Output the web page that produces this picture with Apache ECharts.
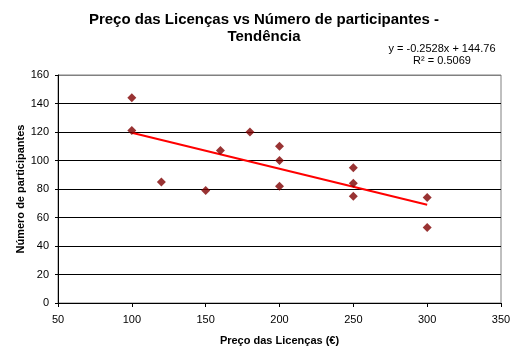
<!DOCTYPE html>
<html><head><meta charset="utf-8">
<script src="https://cdn.jsdelivr.net/npm/echarts@6/dist/echarts.min.js"></script>
<style>html,body{margin:0;padding:0;background:#fff}#c{width:517px;height:355px}</style>
</head><body><div id="c"></div>
<script>
const prices = [100, 100, 120, 150, 160, 180, 200, 200, 200, 250, 250, 250, 300, 300];
const participants = [144, 121, 85, 79, 107, 120, 110, 100, 82, 95, 84, 75, 74, 53];
const trendSlope = -0.2528;
const trendIntercept = 144.76;
const trendXRange = [100, 300];
const titleText = 'Preço das Licenças vs Número de participantes -\nTendência';
const equationText = 'y = -0.2528x + 144.76\nR² = 0.5069';
const xTitle = 'Preço das Licenças (€)';
const yTitle = 'Número de participantes';

const points = prices.map((p, i) => [p, participants[i]]);
const trend = trendXRange.map(x => [x, trendSlope * x + trendIntercept]);
const font = 'Liberation Sans, Arial, sans-serif';
const gridColors = ['#000','#000','#000','#000','#000','#000','#000','#000','#808080'];

const chart = echarts.init(document.getElementById('c'));
chart.setOption({
  animation: false,
  backgroundColor: '#fff',
  title: [{
    text: titleText, left: 259, top: 6, textAlign: 'center',
    textStyle: {fontFamily: font, fontSize: 15, fontWeight: 'bold', color: '#000', lineHeight: 17}
  }, {
    text: equationText, left: 437, top: 38, textAlign: 'center',
    textStyle: {fontFamily: font, fontSize: 11, fontWeight: 'normal', color: '#000', lineHeight: 12}
  }],
  grid: {left: 58, right: 16, top: 75, bottom: 52, show: true, borderColor: '#808080', borderWidth: 1},
  xAxis: {
    type: 'value', min: 50, max: 350, interval: 50,
    name: xTitle, nameLocation: 'middle', nameGap: 32, nameMoveOverlap: false,
    nameTextStyle: {fontFamily: font, fontSize: 11, fontWeight: 'bold', color: '#000'},
    axisLine: {show: true, lineStyle: {color: '#000', width: 1}},
    axisTick: {show: true, inside: false, length: 4, lineStyle: {color: '#000'}},
    axisLabel: {fontFamily: font, fontSize: 11, color: '#000', margin: 11},
    splitLine: {show: false}
  },
  yAxis: {
    type: 'value', min: 0, max: 160, interval: 20,
    name: yTitle, nameLocation: 'middle', nameGap: 32, nameRotate: 90, nameMoveOverlap: false,
    nameTextStyle: {fontFamily: font, fontSize: 11, fontWeight: 'bold', color: '#000'},
    axisLine: {show: true, lineStyle: {color: '#000', width: 1}},
    axisTick: {show: true, inside: false, length: 3, lineStyle: {color: '#000'}},
    axisLabel: {fontFamily: font, fontSize: 11, color: '#000', margin: 9},
    splitLine: {show: true, lineStyle: {color: gridColors, width: 1}}
  },
  series: [{
    type: 'line', data: trend, symbol: 'none', silent: true,
    lineStyle: {color: '#ff0000', width: 2}, z: 2
  }, {
    type: 'scatter', data: points, symbol: 'diamond', symbolSize: 9,
    itemStyle: {color: '#800000'}, z: 3
  }]
});
</script></body></html>
